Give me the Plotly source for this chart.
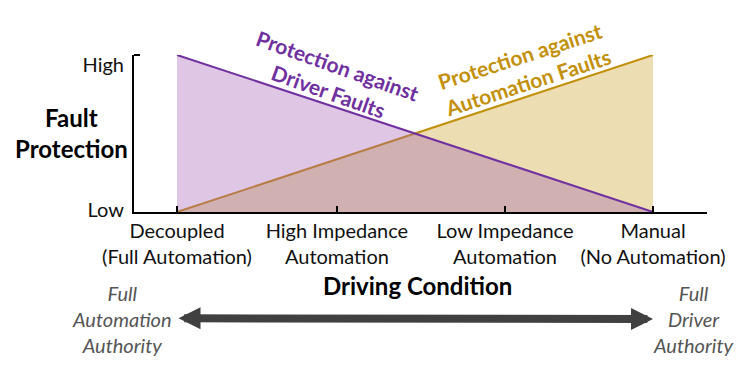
import plotly.graph_objects as go

# ---- data ----
categories = ["Decoupled<br>(Full Automation)", "High Impedance<br>Automation",
              "Low Impedance<br>Automation", "Manual<br>(No Automation)"]
cat_pos = [0, 0.336, 0.689, 1]
x_ends = [0, 1]
driver_protection = [1, 0]       # protection against driver faults
automation_protection = [0, 1]   # protection against automation faults
y_tick_labels = ["Low", "High"]
y_tick_vals = [0.012, 0.935]

PURPLE = "#7030A0"
GOLD = "#C3900C"
FONT = "Lato"

fig = go.Figure()
fig.add_trace(go.Scatter(x=x_ends, y=automation_protection, mode="lines",
                         line=dict(color=GOLD, width=2),
                         fill="tozeroy", fillcolor="rgba(191,144,0,0.30)",
                         hoverinfo="skip"))
fig.add_trace(go.Scatter(x=x_ends, y=driver_protection, mode="lines",
                         line=dict(color=PURPLE, width=2),
                         fill="tozeroy", fillcolor="rgba(161,92,178,0.35)",
                         hoverinfo="skip"))

W, H = 750, 373
L, R, T, B = 134, 707, 55, 212

def px(xp):
    return (xp - L) / (R - L)

def py(yp):
    return (B - yp) / (B - T)

def txt(text, x, y, size, color, angle=0):
    return dict(text=text, x=px(x), y=py(y), xref="paper", yref="paper",
                xanchor="center", yanchor="middle", showarrow=False,
                textangle=angle, align="center",
                font=dict(family=FONT, size=size, color=color))

anns = [
    txt("<b>Protection against<br>Driver Faults</b>", 333, 78, 21, PURPLE, 19.5),
    txt("<b>Protection against<br>Automation Faults</b>", 523, 69, 21, GOLD, -18),
    txt("<b>Fault<br>Protection</b>", 71, 133, 24, "#000"),
    txt("<b>Driving Condition</b>", 417, 285, 24, "#000"),
    txt("<i>Full<br>Automation<br>Authority</i>", 122, 319, 20, "#555"),
    txt("<i>Full<br>Driver<br>Authority</i>", 693, 319, 20, "#555"),
]
# double-headed arrow
anns.append(dict(text="", x=1.0, y=py(319), ax=0.0, ay=py(319),
                 xref="x", yref="paper", axref="x", ayref="y",
                 showarrow=True, arrowside="end+start", arrowhead=2,
                 arrowwidth=8, arrowsize=0.55, arrowcolor="#404040"))

fig.update_layout(
    width=W, height=H,
    margin=dict(l=L, r=W - R, t=T, b=H - B),
    plot_bgcolor="white", paper_bgcolor="white",
    showlegend=False,
    annotations=anns,
    font=dict(family=FONT, size=20, color="#111"),
    xaxis=dict(range=[-0.0903, 1.1134], tickmode="array", tickvals=cat_pos,
               ticktext=categories, showline=True, linecolor="#000", linewidth=2,
               ticks="inside", ticklen=6, tickwidth=1.5, tickcolor="#000",
               showgrid=False, zeroline=False, fixedrange=True,
               tickfont=dict(family=FONT, size=20, color="#111")),
    yaxis=dict(range=[0, 1], tickmode="array", tickvals=y_tick_vals,
               ticktext=y_tick_labels, showline=True, linecolor="#000", linewidth=2,
               ticks="", showgrid=False, zeroline=False, fixedrange=True,
               ticklabelstandoff=4,
               tickfont=dict(family=FONT, size=20, color="#111")),
)
fig.update_yaxes(minor=dict(tickmode="array", tickvals=[1], ticks="inside",
                            ticklen=6, tickwidth=2, tickcolor="#000"))

fig.write_html("out.html", config={"displayModeBar": False},
               post_script="document.body.style.margin='0';")
